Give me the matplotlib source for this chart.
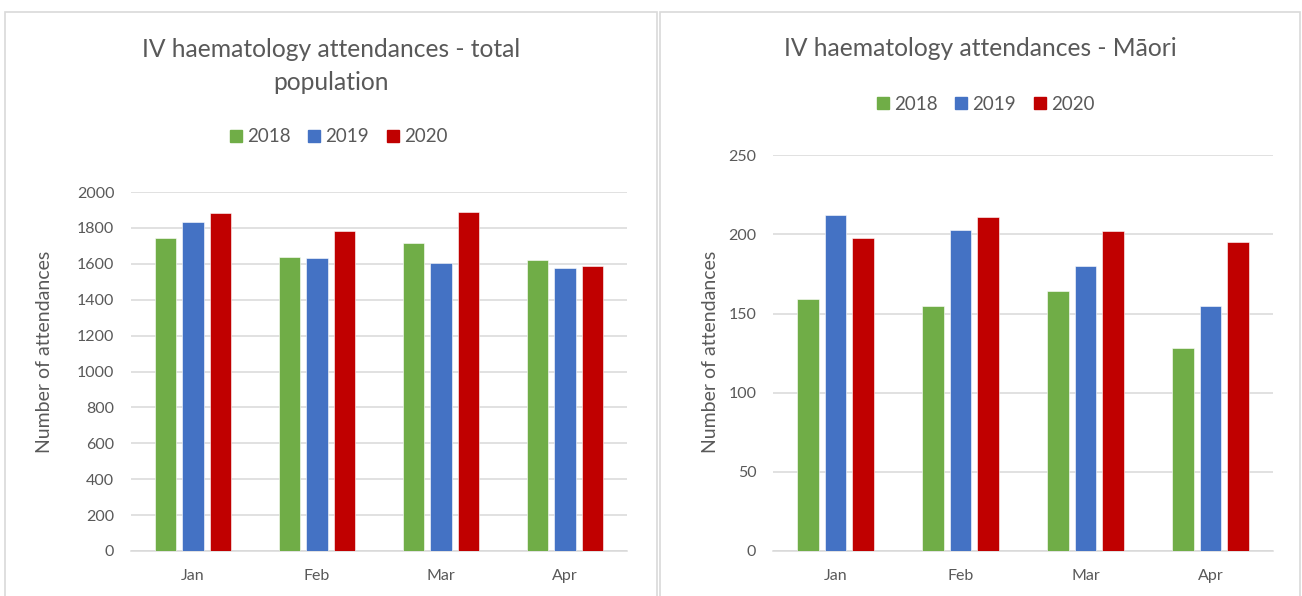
import matplotlib
matplotlib.use("Agg")
import matplotlib.pyplot as plt
from matplotlib.patches import Rectangle
from matplotlib.lines import Line2D
import numpy as np

plt.rcParams['font.family'] = ['Lato', 'DejaVu Sans']

months = ["Jan", "Feb", "Mar", "Apr"]
years = ["2018", "2019", "2020"]
colors = ["#70AD47", "#4472C4", "#C00000"]

total_2018 = [1742, 1636, 1716, 1619]
total_2019 = [1835, 1635, 1603, 1578]
total_2020 = [1885, 1781, 1890, 1589]

maori_2018 = [159, 155, 164, 128]
maori_2019 = [212, 203, 180, 155]
maori_2020 = [198, 211, 202, 195]

W, H = 1302, 596
fig = plt.figure(figsize=(W / 100, H / 100), dpi=100)
TXT = "#595959"
GRID = "#D9D9D9"

def fx(px):
    return px / W

def fy(py):
    return 1 - py / H

# chart frames
for x0, x1 in [(5, 657), (660, 1300)]:
    fig.patches.append(Rectangle((fx(x0), fy(620)), fx(x1 - x0), (620 - 12) / H,
                                 transform=fig.transFigure, facecolor="white",
                                 edgecolor=GRID, linewidth=1.2, zorder=0))

def draw(ax_box, series, ylim, step, title, title_y, legend_x, legend_y, center_x, ylabel_x):
    x0, x1, ytop = ax_box
    ax = fig.add_axes([fx(x0), fy(551), fx(x1 - x0), (551 - ytop) / H])
    ax.set_zorder(2)
    x = np.arange(len(months))
    off = 0.222
    for i, (vals, c) in enumerate(zip(series, colors)):
        ax.bar(x + (i - 1) * off, vals, width=0.175, color=c, zorder=3,
               edgecolor="white", linewidth=0.4)
    ax.set_xlim(-0.5, 3.5)
    ax.set_ylim(0, ylim)
    ax.set_yticks(np.arange(0, ylim + 1, step))
    ax.set_xticks(x)
    ax.set_xticklabels(months)
    ax.yaxis.grid(True, color=GRID, linewidth=1.1, zorder=0)
    ax.set_axisbelow(True)
    for s in ["top", "right", "left"]:
        ax.spines[s].set_visible(False)
    ax.spines["bottom"].set_color(GRID)
    ax.spines["bottom"].set_linewidth(1.1)
    ax.tick_params(axis="both", length=0, colors=TXT, labelsize=11.5)
    ax.tick_params(axis="y", pad=12)
    ax.tick_params(axis="x", pad=13)
    ax.patch.set_alpha(0)
    fig.text(fx(center_x), fy(title_y), title, ha="center", va="center",
             fontsize=17.7, color=TXT, linespacing=1.5)
    handles = [Line2D([], [], marker="s", linestyle="none", markersize=8.0,
                      color=c) for c in colors]
    fig.legend(handles, years, loc="center", bbox_to_anchor=(fx(legend_x), fy(legend_y)),
               ncol=3, frameon=False, fontsize=13.5, labelcolor=TXT,
               handletextpad=0.1, columnspacing=0.75, handlelength=1.0)
    fig.text(fx(ylabel_x), fy(352), "Number of attendances", rotation=90,
             ha="center", va="center", fontsize=14, color=TXT)
    return ax

draw((131, 627, 192), [total_2018, total_2019, total_2020], 2000, 200,
     "IV haematology attendances - total\npopulation", 66, 337, 137, 331, 45)
draw((773, 1273, 155.3), [maori_2018, maori_2019, maori_2020], 250, 50,
     "IV haematology attendances - Māori", 48, 984, 104, 980, 710)

fig.savefig("out.png", dpi=100, facecolor="white")
